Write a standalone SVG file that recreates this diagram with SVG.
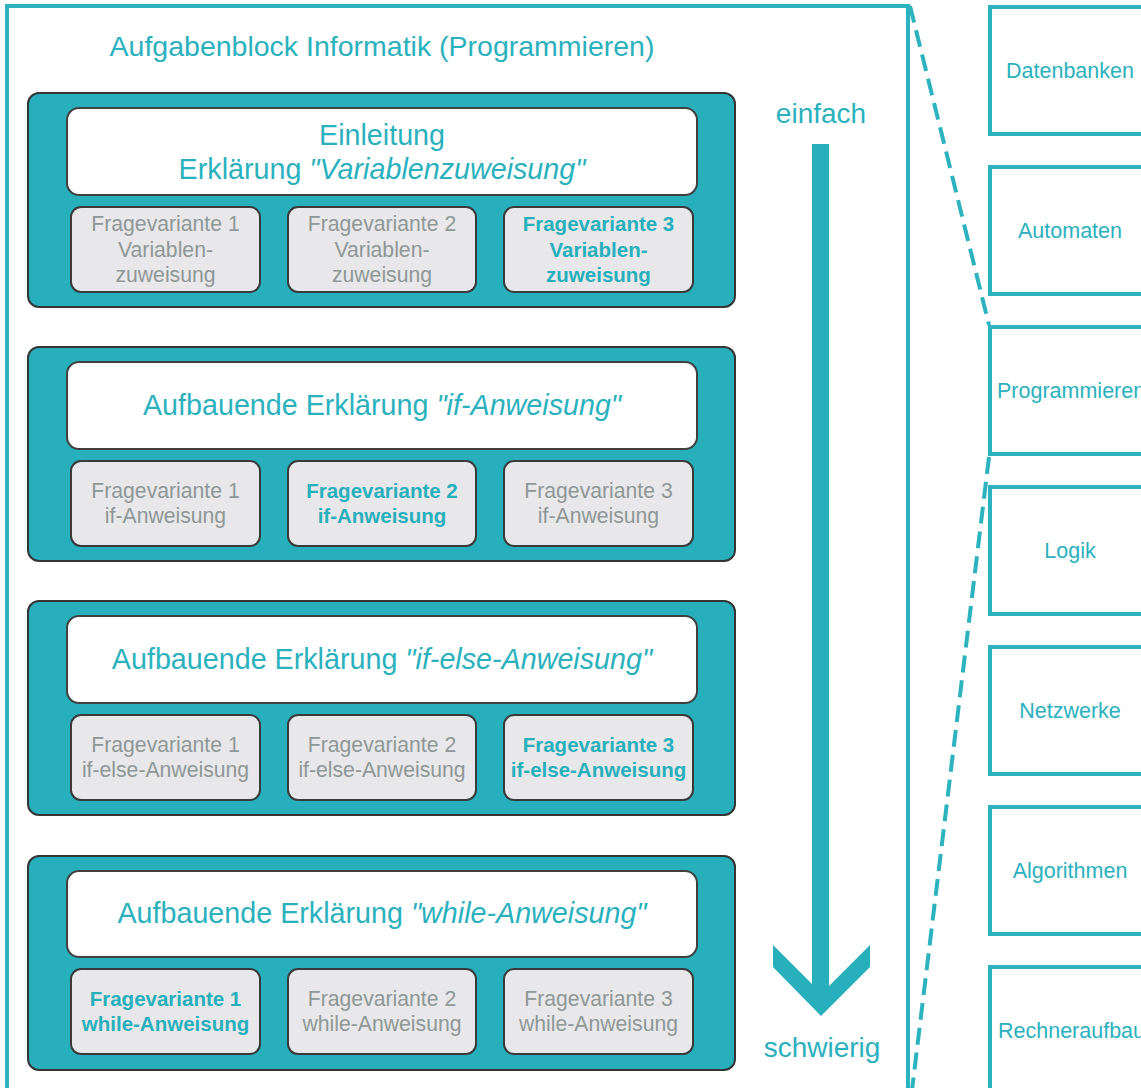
<svg xmlns="http://www.w3.org/2000/svg" width="1141" height="1088" viewBox="0 0 1141 1088">
<style>
text{font-family:"Liberation Sans",Arial,sans-serif}
.frame{fill:none;stroke:#2db3c0;stroke-width:4}
.topic{fill:#fff;stroke:#2db3c0;stroke-width:4}
.topic-t{fill:#2ab1be;font-size:21.5px;text-anchor:middle}
.title{fill:#2ab1be;font-size:28.5px;text-anchor:middle}
.block{fill:#27afbb;stroke:#353535;stroke-width:2}
.head{fill:#fff;stroke:#404040;stroke-width:2}
.head-t{fill:#2ab1be;font-size:28.7px;text-anchor:middle}
.sub{fill:#e8e8ea;stroke:#3a3a3a;stroke-width:2}
.g{fill:#8f9797;font-size:21.2px;text-anchor:middle}
.b{fill:#27afbb;font-size:20.5px;font-weight:bold;text-anchor:middle}
.dash{fill:none;stroke:#2db3c0;stroke-width:4;stroke-dasharray:17 8}
.lbl{fill:#2ab1be;font-size:28px;text-anchor:middle}
</style>
<rect width="1141" height="1088" fill="#fff"/>
<g id="frame">
<rect class="frame" x="7" y="6" width="901" height="1100"/>
<text class="title" x="382" y="56">Aufgabenblock Informatik (Programmieren)</text>
</g>
<g id="block1">
<rect class="block" x="28" y="93" width="707" height="214" rx="11"/>
<rect class="head" x="67" y="108" width="630" height="87" rx="12"/>
<text class="head-t" x="382" y="145">Einleitung</text>
<text class="head-t" x="382" y="179">Erklärung <tspan font-style="italic">"Variablenzuweisung"</tspan></text>
<rect class="sub" x="71" y="207" width="189" height="85" rx="10"/>
<text class="g" x="165.5" y="231">Fragevariante 1</text><text class="g" x="165.5" y="257">Variablen-</text><text class="g" x="165.5" y="282">zuweisung</text>
<rect class="sub" x="288" y="207" width="188" height="85" rx="10"/>
<text class="g" x="382" y="231">Fragevariante 2</text><text class="g" x="382" y="257">Variablen-</text><text class="g" x="382" y="282">zuweisung</text>
<rect class="sub" x="504" y="207" width="189" height="85" rx="10"/>
<text class="b" x="598.5" y="231">Fragevariante 3</text><text class="b" x="598.5" y="257">Variablen-</text><text class="b" x="598.5" y="282">zuweisung</text>
</g>
<g id="block2">
<rect class="block" x="28" y="347" width="707" height="214" rx="11"/>
<rect class="head" x="67" y="362" width="630" height="87" rx="12"/>
<text class="head-t" x="382" y="415">Aufbauende Erklärung <tspan font-style="italic">"if-Anweisung"</tspan></text>
<rect class="sub" x="71" y="461" width="189" height="85" rx="10"/>
<text class="g" x="165.5" y="498">Fragevariante 1</text><text class="g" x="165.5" y="523">if-Anweisung</text>
<rect class="sub" x="288" y="461" width="188" height="85" rx="10"/>
<text class="b" x="382" y="498">Fragevariante 2</text><text class="b" x="382" y="523">if-Anweisung</text>
<rect class="sub" x="504" y="461" width="189" height="85" rx="10"/>
<text class="g" x="598.5" y="498">Fragevariante 3</text><text class="g" x="598.5" y="523">if-Anweisung</text>
</g>
<g id="block3">
<rect class="block" x="28" y="601" width="707" height="214" rx="11"/>
<rect class="head" x="67" y="616" width="630" height="87" rx="12"/>
<text class="head-t" x="382" y="669">Aufbauende Erklärung <tspan font-style="italic">"if-else-Anweisung"</tspan></text>
<rect class="sub" x="71" y="715" width="189" height="85" rx="10"/>
<text class="g" x="165.5" y="752">Fragevariante 1</text><text class="g" x="165.5" y="777">if-else-Anweisung</text>
<rect class="sub" x="288" y="715" width="188" height="85" rx="10"/>
<text class="g" x="382" y="752">Fragevariante 2</text><text class="g" x="382" y="777">if-else-Anweisung</text>
<rect class="sub" x="504" y="715" width="189" height="85" rx="10"/>
<text class="b" x="598.5" y="752">Fragevariante 3</text><text class="b" x="598.5" y="777">if-else-Anweisung</text>
</g>
<g id="block4">
<rect class="block" x="28" y="856" width="707" height="214" rx="11"/>
<rect class="head" x="67" y="871" width="630" height="86" rx="12"/>
<text class="head-t" x="382" y="923">Aufbauende Erklärung <tspan font-style="italic">"while-Anweisung"</tspan></text>
<rect class="sub" x="71" y="969" width="189" height="85" rx="10"/>
<text class="b" x="165.5" y="1006">Fragevariante 1</text><text class="b" x="165.5" y="1031">while-Anweisung</text>
<rect class="sub" x="288" y="969" width="188" height="85" rx="10"/>
<text class="g" x="382" y="1006">Fragevariante 2</text><text class="g" x="382" y="1031">while-Anweisung</text>
<rect class="sub" x="504" y="969" width="189" height="85" rx="10"/>
<text class="g" x="598.5" y="1006">Fragevariante 3</text><text class="g" x="598.5" y="1031">while-Anweisung</text>
</g>
<g id="difficulty">
<text class="lbl" x="821" y="123">einfach</text>
<polygon fill="#27afbb" points="812,144 829,144 829,986 870,945 870,967 821,1016 773,967 773,945 812,984"/>
<text class="lbl" x="822" y="1057">schwierig</text>
</g>
<g id="topics">
<g id="t-datenbanken"><rect class="topic" x="990" y="7" width="170" height="127"/><text class="topic-t" x="1070" y="78">Datenbanken</text></g>
<g id="t-automaten"><rect class="topic" x="990" y="167" width="170" height="127"/><text class="topic-t" x="1070" y="238">Automaten</text></g>
<g id="t-programmieren"><rect class="topic" x="990" y="327" width="170" height="127"/><text class="topic-t" x="997" y="398" style="text-anchor:start">Programmieren</text></g>
<g id="t-logik"><rect class="topic" x="990" y="487" width="170" height="127"/><text class="topic-t" x="1070" y="558">Logik</text></g>
<g id="t-netzwerke"><rect class="topic" x="990" y="647" width="170" height="127"/><text class="topic-t" x="1070" y="718">Netzwerke</text></g>
<g id="t-algorithmen"><rect class="topic" x="990" y="807" width="170" height="127"/><text class="topic-t" x="1070" y="878">Algorithmen</text></g>
<g id="t-rechneraufbau"><rect class="topic" x="990" y="967" width="170" height="127"/><text class="topic-t" x="998" y="1038" style="text-anchor:start">Rechneraufbau</text></g>
</g>
<g id="connectors">
<line class="dash" x1="910" y1="6" x2="989" y2="325"/>
<line class="dash" x1="989" y1="457" x2="912" y2="1090"/>
</g>
</svg>
